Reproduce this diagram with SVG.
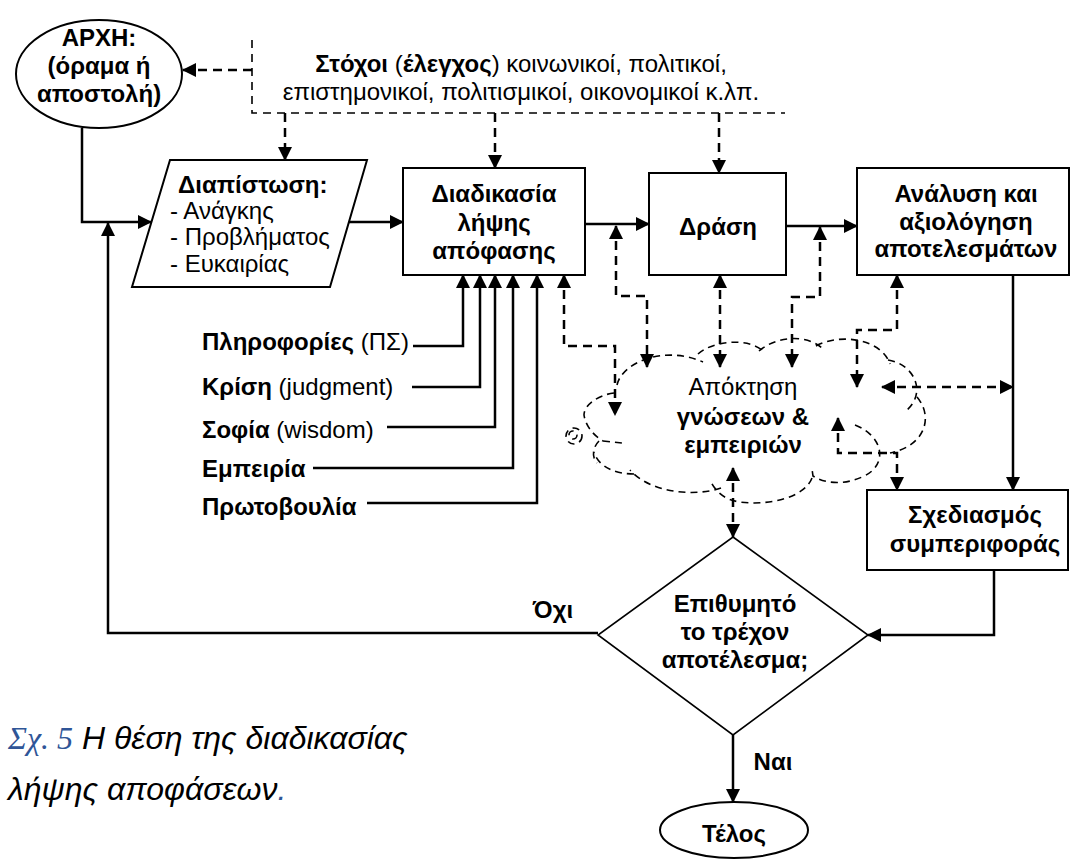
<svg xmlns="http://www.w3.org/2000/svg" width="1076" height="862" viewBox="0 0 1076 862">
  <defs>
    <marker id="ah" viewBox="0 0 14 14" refX="13" refY="7" markerWidth="14" markerHeight="14" markerUnits="userSpaceOnUse" orient="auto-start-reverse">
      <path d="M0,0 L14,7 L0,14 z" fill="#000"/>
    </marker>
  </defs>
  <style>
    text { font-family: "Liberation Sans", Arial, sans-serif; fill: #000; }
    .t { font-size: 24px; font-weight: bold; }
    .r { font-size: 24px; }
    .box { fill: #fff; stroke: #000; stroke-width: 2; }
    .line { fill: none; stroke: #000; stroke-width: 2.5; }
    .dash { fill: none; stroke: #000; stroke-width: 2.5; stroke-dasharray: 9 6; }
    .thin { fill: none; stroke: #000; stroke-width: 1.6; stroke-dasharray: 8 6; }
    .cloud path, .cloud circle { fill: none; stroke: #000; stroke-width: 1.6; stroke-dasharray: 7 5; }
    .cap { font-size: 32px; font-style: italic; }
    .blue { fill: #2F5597; font-family: "Liberation Serif", "Times New Roman", serif; }
  </style>
  <rect width="1076" height="862" fill="#fff"/>

  <!-- connectors -->
  <g id="connectors">
    <!-- goals bracket -->
    <path class="thin" d="M252,40 V113 H785"/>
    <path class="dash" d="M252,70 H183" marker-end="url(#ah)"/>
    <path class="dash" d="M285,113 V160" marker-end="url(#ah)"/>
    <path class="dash" d="M495,113 V168" marker-end="url(#ah)"/>
    <path class="dash" d="M719,113 V173" marker-end="url(#ah)"/>

    <!-- main flow -->
    <path class="line" d="M82,128 V222 H151" marker-end="url(#ah)"/>
    <path class="line" d="M598,633 H108 V223" marker-end="url(#ah)"/>
    <path class="line" d="M349,222 H403" marker-end="url(#ah)"/>
    <path class="line" d="M585,224 H649" marker-end="url(#ah)"/>
    <path class="line" d="M786,226 H857" marker-end="url(#ah)"/>
    <path class="line" d="M1013,275 V490" marker-end="url(#ah)"/>
    <path class="line" d="M994,570 V635 H868" marker-end="url(#ah)"/>
    <path class="line" d="M733,735 V802" marker-end="url(#ah)"/>

    <!-- inputs to decision making -->
    <path class="line" d="M413,346 H463 V275" marker-end="url(#ah)"/>
    <path class="line" d="M412,387 H480 V275" marker-end="url(#ah)"/>
    <path class="line" d="M387,427 H495 V275" marker-end="url(#ah)"/>
    <path class="line" d="M313,468 H513 V275" marker-end="url(#ah)"/>
    <path class="line" d="M367,503 H537 V275" marker-end="url(#ah)"/>

    <!-- knowledge exchanges -->
    <path class="dash" d="M616,226 V296 H647 V367" marker-start="url(#ah)" marker-end="url(#ah)"/>
    <path class="dash" d="M564,275 V346 H615 V415" marker-start="url(#ah)" marker-end="url(#ah)"/>
    <path class="dash" d="M720,275 V367" marker-start="url(#ah)" marker-end="url(#ah)"/>
    <path class="dash" d="M820,227 V297 H792 V367" marker-start="url(#ah)" marker-end="url(#ah)"/>
    <path class="dash" d="M897,275 V330 H857 V387" marker-start="url(#ah)" marker-end="url(#ah)"/>
    <path class="dash" d="M882,387 H1013" marker-start="url(#ah)" marker-end="url(#ah)"/>
    <path class="dash" d="M838,418 V453 H897 V490" marker-start="url(#ah)" marker-end="url(#ah)"/>
    <path class="dash" d="M733,468 V537" marker-start="url(#ah)" marker-end="url(#ah)"/>
  </g>

  <!-- start -->
  <g id="start">
    <ellipse cx="99" cy="74" rx="83" ry="54" class="box"/>
    <text class="t" x="99" y="46" text-anchor="middle">ΑΡΧΗ:</text>
    <text class="t" x="99" y="74" text-anchor="middle">(όραμα ή</text>
    <text class="t" x="99" y="102" text-anchor="middle">αποστολή)</text>
  </g>

  <!-- goals -->
  <g id="goals">
    <text class="r" x="521" y="72" text-anchor="middle"><tspan font-weight="bold">Στόχοι</tspan> (<tspan font-weight="bold">έλεγχος</tspan>) κοινωνικοί, πολιτικοί,</text>
    <text class="r" x="521" y="100" text-anchor="middle">επιστημονικοί, πολιτισμικοί, οικονομικοί κ.λπ.</text>
  </g>

  <!-- finding -->
  <g id="finding">
    <polygon points="170,160 367,160 330,287 132,287" class="box"/>
    <text class="t" x="178" y="193">Διαπίστωση:</text>
    <text class="r" x="170" y="219">- Ανάγκης</text>
    <text class="r" x="170" y="245">- Προβλήματος</text>
    <text class="r" x="170" y="272">- Ευκαιρίας</text>
  </g>

  <!-- decision making -->
  <g id="decision">
    <rect x="403" y="168" width="182" height="107" class="box"/>
    <text class="t" x="494" y="202" text-anchor="middle">Διαδικασία</text>
    <text class="t" x="494" y="231" text-anchor="middle">λήψης</text>
    <text class="t" x="494" y="259" text-anchor="middle">απόφασης</text>
  </g>

  <!-- action -->
  <g id="action">
    <rect x="649" y="173" width="137" height="102" class="box"/>
    <text class="t" x="718" y="235" text-anchor="middle">Δράση</text>
  </g>

  <!-- analysis -->
  <g id="analysis">
    <rect x="857" y="168" width="212" height="107" class="box"/>
    <text class="t" x="966" y="202" text-anchor="middle">Ανάλυση και</text>
    <text class="t" x="966" y="230" text-anchor="middle">αξιολόγηση</text>
    <text class="t" x="966" y="257" text-anchor="middle">αποτελεσμάτων</text>
  </g>

  <!-- inputs -->
  <g id="inputs">
    <text class="r" x="202" y="350"><tspan font-weight="bold">Πληροφορίες</tspan> (ΠΣ)</text>
    <text class="r" x="202" y="395"><tspan font-weight="bold">Κρίση</tspan> (judgment)</text>
    <text class="r" x="202" y="438"><tspan font-weight="bold">Σοφία</tspan> (wisdom)</text>
    <text class="r" x="202" y="477" font-weight="bold">Εμπειρία</text>
    <text class="r" x="202" y="515" font-weight="bold">Πρωτοβουλία</text>
  </g>

  <!-- knowledge cloud -->
  <g id="knowledge" class="cloud">
    <path d="M617,385 C622,362 665,345 703,362"/>
    <path d="M698,354 C712,341 748,337 763,351"/>
    <path d="M759,351 C776,336 806,334 822,348"/>
    <path d="M816,346 C842,332 882,340 890,364"/>
    <path d="M888,360 C914,364 927,392 907,410"/>
    <path d="M917,397 C934,417 925,446 890,453"/>
    <path d="M855,425 C884,436 889,466 862,477 C845,485 825,484 813,476 L812,469"/>
    <path d="M812,478 C805,497 770,506 740,502 C725,500 716,492 711,482"/>
    <path d="M721,488 C695,497 650,493 630,470"/>
    <path d="M634,474 C614,474 598,466 594,452"/>
    <path d="M614,393 C598,395 584,405 584,415 C586,428 596,437 603,441"/>
    <path d="M603,441 L622,443"/>
    <path d="M599,441 C592,448 592,458 597,463"/>
    <circle cx="574" cy="436" r="8"/>
    <circle cx="573" cy="435" r="4"/>
    <text class="r" x="743" y="395" text-anchor="middle">Απόκτηση</text>
    <text class="r" x="743" y="425" text-anchor="middle" font-weight="bold">γνώσεων &amp;</text>
    <text class="r" x="743" y="453" text-anchor="middle" font-weight="bold">εμπειριών</text>
  </g>

  <!-- behaviour planning -->
  <g id="planning">
    <rect x="867" y="490" width="201" height="80" class="box"/>
    <text class="t" x="975" y="523" text-anchor="middle">Σχεδιασμός</text>
    <text class="t" x="975" y="552" text-anchor="middle">συμπεριφοράς</text>
  </g>

  <!-- evaluation -->
  <g id="check">
    <polygon points="733,537 868,635 733,735 598,635" fill="#fff" stroke="#000" stroke-width="1.6"/>
    <text class="t" x="735" y="612" text-anchor="middle">Επιθυμητό</text>
    <text class="t" x="735" y="640" text-anchor="middle">το τρέχον</text>
    <text class="t" x="735" y="668" text-anchor="middle">αποτέλεσμα;</text>
  </g>

  <g id="labels">
    <text class="t" x="553" y="618" text-anchor="middle">Όχι</text>
    <text class="t" x="773" y="770" text-anchor="middle">Ναι</text>
  </g>

  <!-- end -->
  <g id="end">
    <ellipse cx="734" cy="830" rx="74" ry="28" class="box"/>
    <text class="t" x="734" y="842" text-anchor="middle">Τέλος</text>
  </g>

  <!-- caption -->
  <g id="caption">
    <text class="cap" x="8" y="749"><tspan class="blue">Σχ. 5</tspan> Η θέση της διαδικασίας</text>
    <text class="cap" x="8" y="800">λήψης αποφάσεων<tspan fill="#2F5597">.</tspan></text>
  </g>
</svg>
